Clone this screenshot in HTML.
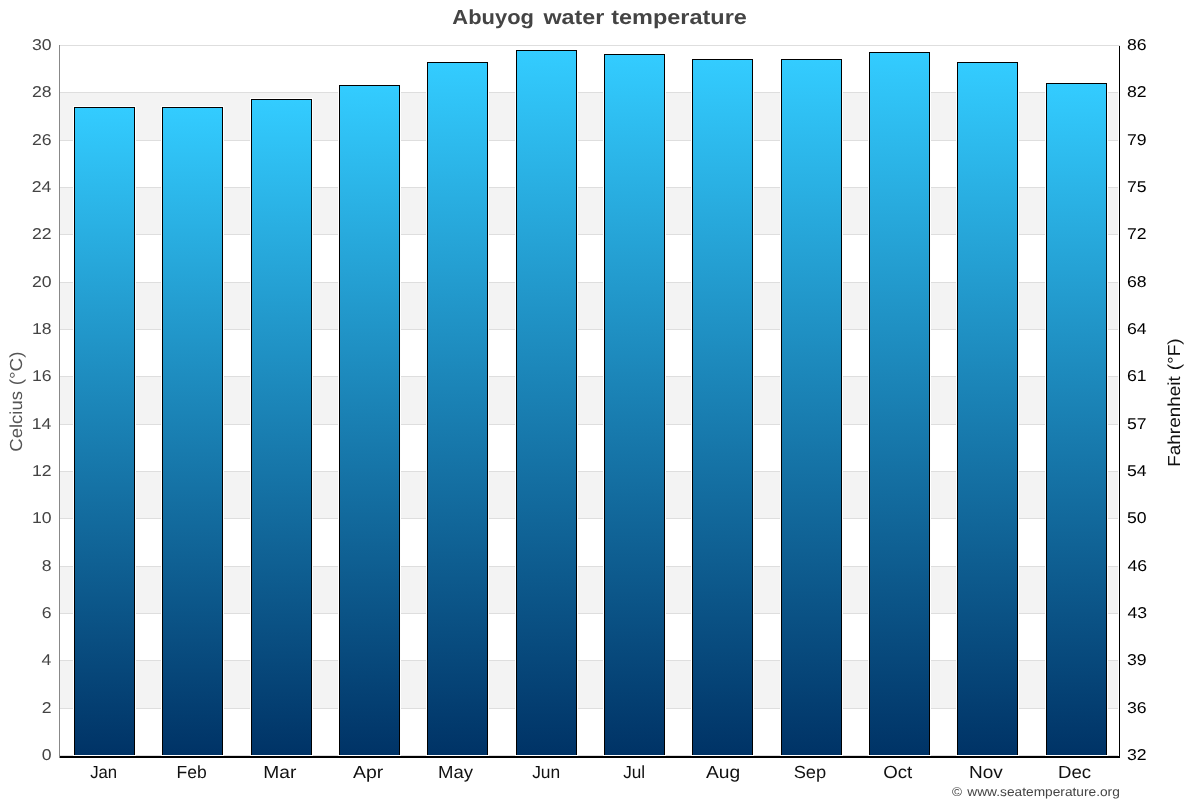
<!DOCTYPE html><html><head><meta charset="utf-8"><style>html,body{margin:0;padding:0;background:#fff;width:1200px;height:800px;overflow:hidden}svg{display:block;will-change:transform}text{font-family:"Liberation Sans", sans-serif;text-rendering:geometricPrecision}</style></head><body>
<svg width="1200" height="800" viewBox="0 0 1200 800">
<defs><linearGradient id="g" x1="0" y1="0" x2="0" y2="1"><stop offset="0" stop-color="#33ccff"/><stop offset="1" stop-color="#003366"/></linearGradient></defs>
<rect width="1200" height="800" fill="#fff"/>
<g shape-rendering="crispEdges">
<rect x="60" y="93" width="1058" height="47" fill="#f3f3f3"/>
<rect x="60" y="188" width="1058" height="46" fill="#f3f3f3"/>
<rect x="60" y="283" width="1058" height="46" fill="#f3f3f3"/>
<rect x="60" y="377" width="1058" height="47" fill="#f3f3f3"/>
<rect x="60" y="472" width="1058" height="46" fill="#f3f3f3"/>
<rect x="60" y="567" width="1058" height="46" fill="#f3f3f3"/>
<rect x="60" y="661" width="1058" height="47" fill="#f3f3f3"/>
<rect x="60" y="45" width="1060" height="1" fill="#dedede"/>
<rect x="60" y="92" width="1058" height="1" fill="#dedede"/>
<rect x="60" y="140" width="1058" height="1" fill="#dedede"/>
<rect x="60" y="187" width="1058" height="1" fill="#dedede"/>
<rect x="60" y="234" width="1058" height="1" fill="#dedede"/>
<rect x="60" y="282" width="1058" height="1" fill="#dedede"/>
<rect x="60" y="329" width="1058" height="1" fill="#dedede"/>
<rect x="60" y="376" width="1058" height="1" fill="#dedede"/>
<rect x="60" y="424" width="1058" height="1" fill="#dedede"/>
<rect x="60" y="471" width="1058" height="1" fill="#dedede"/>
<rect x="60" y="518" width="1058" height="1" fill="#dedede"/>
<rect x="60" y="566" width="1058" height="1" fill="#dedede"/>
<rect x="60" y="613" width="1058" height="1" fill="#dedede"/>
<rect x="60" y="660" width="1058" height="1" fill="#dedede"/>
<rect x="60" y="708" width="1058" height="1" fill="#dedede"/>
<rect x="60" y="755" width="1058" height="1" fill="#dedede"/>
<rect x="73" y="106" width="63" height="650" fill="#fff"/>
<rect x="74" y="107" width="61" height="648" fill="#000"/>
<rect x="75" y="108" width="59" height="647" fill="url(#g)"/>
<rect x="161" y="106" width="63" height="650" fill="#fff"/>
<rect x="162" y="107" width="61" height="648" fill="#000"/>
<rect x="163" y="108" width="59" height="647" fill="url(#g)"/>
<rect x="250" y="98" width="63" height="658" fill="#fff"/>
<rect x="251" y="99" width="61" height="656" fill="#000"/>
<rect x="252" y="100" width="59" height="655" fill="url(#g)"/>
<rect x="338" y="84" width="63" height="672" fill="#fff"/>
<rect x="339" y="85" width="61" height="670" fill="#000"/>
<rect x="340" y="86" width="59" height="669" fill="url(#g)"/>
<rect x="426" y="61" width="63" height="695" fill="#fff"/>
<rect x="427" y="62" width="61" height="693" fill="#000"/>
<rect x="428" y="63" width="59" height="692" fill="url(#g)"/>
<rect x="515" y="49" width="63" height="707" fill="#fff"/>
<rect x="516" y="50" width="61" height="705" fill="#000"/>
<rect x="517" y="51" width="59" height="704" fill="url(#g)"/>
<rect x="603" y="53" width="63" height="703" fill="#fff"/>
<rect x="604" y="54" width="61" height="701" fill="#000"/>
<rect x="605" y="55" width="59" height="700" fill="url(#g)"/>
<rect x="691" y="58" width="63" height="698" fill="#fff"/>
<rect x="692" y="59" width="61" height="696" fill="#000"/>
<rect x="693" y="60" width="59" height="695" fill="url(#g)"/>
<rect x="780" y="58" width="63" height="698" fill="#fff"/>
<rect x="781" y="59" width="61" height="696" fill="#000"/>
<rect x="782" y="60" width="59" height="695" fill="url(#g)"/>
<rect x="868" y="51" width="63" height="705" fill="#fff"/>
<rect x="869" y="52" width="61" height="703" fill="#000"/>
<rect x="870" y="53" width="59" height="702" fill="url(#g)"/>
<rect x="956" y="61" width="63" height="695" fill="#fff"/>
<rect x="957" y="62" width="61" height="693" fill="#000"/>
<rect x="958" y="63" width="59" height="692" fill="url(#g)"/>
<rect x="1045" y="82" width="63" height="674" fill="#fff"/>
<rect x="1046" y="83" width="61" height="672" fill="#000"/>
<rect x="1047" y="84" width="59" height="671" fill="url(#g)"/>
<rect x="59" y="45" width="1" height="713" fill="#888888"/>
<rect x="1119" y="46" width="1" height="711" fill="#000"/>
<rect x="60" y="756" width="1060" height="2" fill="#000"/>
</g>
<text transform="translate(31.96,50.00) scale(1.1250,1.0000)" font-size="15.7" font-weight="normal" fill="#444444">30</text>
<text transform="translate(1126.96,50.00) scale(1.1250,1.0000)" font-size="15.7" font-weight="normal" fill="#000000">86</text>
<text transform="translate(31.96,97.00) scale(1.1250,1.0000)" font-size="15.7" font-weight="normal" fill="#444444">28</text>
<text transform="translate(1126.96,97.00) scale(1.1250,1.0000)" font-size="15.7" font-weight="normal" fill="#000000">82</text>
<text transform="translate(31.96,145.00) scale(1.1250,1.0000)" font-size="15.7" font-weight="normal" fill="#444444">26</text>
<text transform="translate(1126.96,145.00) scale(1.1250,1.0000)" font-size="15.7" font-weight="normal" fill="#000000">79</text>
<text transform="translate(31.67,192.00) scale(1.1250,1.0000)" font-size="15.7" font-weight="normal" fill="#444444">24</text>
<text transform="translate(1126.96,192.00) scale(1.1250,1.0000)" font-size="15.7" font-weight="normal" fill="#000000">75</text>
<text transform="translate(31.96,239.00) scale(1.1250,1.0000)" font-size="15.7" font-weight="normal" fill="#444444">22</text>
<text transform="translate(1126.96,239.00) scale(1.1250,1.0000)" font-size="15.7" font-weight="normal" fill="#000000">72</text>
<text transform="translate(31.96,287.00) scale(1.1250,1.0000)" font-size="15.7" font-weight="normal" fill="#444444">20</text>
<text transform="translate(1126.96,287.00) scale(1.1250,1.0000)" font-size="15.7" font-weight="normal" fill="#000000">68</text>
<text transform="translate(31.96,334.00) scale(1.1250,1.0000)" font-size="15.7" font-weight="normal" fill="#444444">18</text>
<text transform="translate(1126.96,334.00) scale(1.1250,1.0000)" font-size="15.7" font-weight="normal" fill="#000000">64</text>
<text transform="translate(31.96,381.00) scale(1.1250,1.0000)" font-size="15.7" font-weight="normal" fill="#444444">16</text>
<text transform="translate(1126.96,381.00) scale(1.1250,1.0000)" font-size="15.7" font-weight="normal" fill="#000000">61</text>
<text transform="translate(31.67,429.00) scale(1.1250,1.0000)" font-size="15.7" font-weight="normal" fill="#444444">14</text>
<text transform="translate(1126.96,429.00) scale(1.1250,1.0000)" font-size="15.7" font-weight="normal" fill="#000000">57</text>
<text transform="translate(31.96,476.00) scale(1.1250,1.0000)" font-size="15.7" font-weight="normal" fill="#444444">12</text>
<text transform="translate(1126.96,476.00) scale(1.1250,1.0000)" font-size="15.7" font-weight="normal" fill="#000000">54</text>
<text transform="translate(31.96,523.00) scale(1.1250,1.0000)" font-size="15.7" font-weight="normal" fill="#444444">10</text>
<text transform="translate(1126.96,523.00) scale(1.1250,1.0000)" font-size="15.7" font-weight="normal" fill="#000000">50</text>
<text transform="translate(41.80,571.00) scale(1.1250,1.0000)" font-size="15.7" font-weight="normal" fill="#444444">8</text>
<text transform="translate(1127.52,571.00) scale(1.1250,1.0000)" font-size="15.7" font-weight="normal" fill="#000000">46</text>
<text transform="translate(41.80,618.00) scale(1.1250,1.0000)" font-size="15.7" font-weight="normal" fill="#444444">6</text>
<text transform="translate(1127.52,618.00) scale(1.1250,1.0000)" font-size="15.7" font-weight="normal" fill="#000000">43</text>
<text transform="translate(41.52,665.00) scale(1.1250,1.0000)" font-size="15.7" font-weight="normal" fill="#444444">4</text>
<text transform="translate(1126.96,665.00) scale(1.1250,1.0000)" font-size="15.7" font-weight="normal" fill="#000000">39</text>
<text transform="translate(41.80,713.00) scale(1.1250,1.0000)" font-size="15.7" font-weight="normal" fill="#444444">2</text>
<text transform="translate(1126.96,713.00) scale(1.1250,1.0000)" font-size="15.7" font-weight="normal" fill="#000000">36</text>
<text transform="translate(41.80,760.00) scale(1.1250,1.0000)" font-size="15.7" font-weight="normal" fill="#444444">0</text>
<text transform="translate(1126.96,760.00) scale(1.1250,1.0000)" font-size="15.7" font-weight="normal" fill="#000000">32</text>
<text transform="translate(90.16,777.80) scale(0.9570,1.0000)" font-size="17.5" font-weight="normal" fill="#111111">Jan</text>
<text transform="translate(176.50,777.80) scale(1.0000,1.0000)" font-size="17.5" font-weight="normal" fill="#111111">Feb</text>
<text transform="translate(263.35,777.80) scale(1.0973,1.0000)" font-size="17.5" font-weight="normal" fill="#111111">Mar</text>
<text transform="translate(353.00,777.80) scale(1.1111,1.0000)" font-size="17.5" font-weight="normal" fill="#111111">Apr</text>
<text transform="translate(438.01,777.80) scale(1.0603,1.0000)" font-size="17.5" font-weight="normal" fill="#111111">May</text>
<text transform="translate(532.15,777.80) scale(0.9944,1.0000)" font-size="17.5" font-weight="normal" fill="#111111">Jun</text>
<text transform="translate(623.15,777.80) scale(0.9810,1.0000)" font-size="17.5" font-weight="normal" fill="#111111">Jul</text>
<text transform="translate(706.00,777.80) scale(1.1000,1.0000)" font-size="17.5" font-weight="normal" fill="#111111">Aug</text>
<text transform="translate(793.65,777.80) scale(1.0462,1.0000)" font-size="17.5" font-weight="normal" fill="#111111">Sep</text>
<text transform="translate(883.20,777.80) scale(1.0667,1.0000)" font-size="17.5" font-weight="normal" fill="#111111">Oct</text>
<text transform="translate(969.07,777.80) scale(1.0847,1.0000)" font-size="17.5" font-weight="normal" fill="#111111">Nov</text>
<text transform="translate(1057.90,777.80) scale(1.0667,1.0000)" font-size="17.5" font-weight="normal" fill="#111111">Dec</text>
<text transform="translate(452.37,23.90) scale(1.0685,1.0000)" font-size="20.5" font-weight="bold" fill="#444444">Abuyog</text>
<text transform="translate(543.50,23.90) scale(1.1362,1.0000)" font-size="20.5" font-weight="bold" fill="#444444">water</text>
<text transform="translate(611.21,23.90) scale(1.1447,1.0000)" font-size="20.5" font-weight="bold" fill="#444444">temperature</text>
<text transform="translate(21.90,451.66) rotate(-90) scale(1.0624,1.0000)" font-size="17.4" fill="#555555">Celcius</text>
<text transform="translate(21.90,385.18) rotate(-90) scale(1.0828,1.0000)" font-size="17.4" fill="#555555">(°C)</text>
<text transform="translate(1179.90,466.73) rotate(-90) scale(1.0871,1.0000)" font-size="17.4" fill="#111111">Fahrenheit</text>
<text transform="translate(1179.90,370.30) rotate(-90) scale(1.0963,1.0000)" font-size="17.4" fill="#111111">(°F)</text>
<text transform="translate(952.03,795.80) scale(1.0743,1.0000)" font-size="12.6" font-weight="normal" fill="#444444">©</text>
<text transform="translate(967.30,795.80) scale(1.0894,1.0000)" font-size="12.6" font-weight="normal" fill="#444444">www.seatemperature.org</text>
</svg></body></html>
